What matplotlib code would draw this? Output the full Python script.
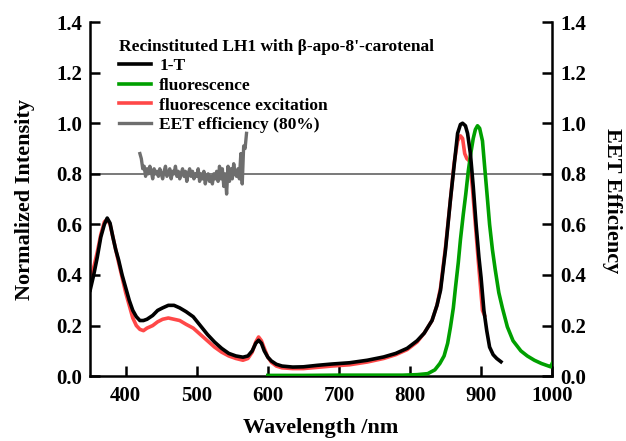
import matplotlib
matplotlib.use("Agg")
import matplotlib.pyplot as plt
import numpy as np

plt.rcParams['font.family'] = ['Liberation Serif', 'DejaVu Serif']
plt.rcParams['font.weight'] = 'bold'

# 1-T (absorption)
wl_abs = [350, 355, 360, 365, 370, 374, 378, 382, 386, 390, 395, 400, 405, 410, 415, 420, 425, 430,
          438, 445, 452, 460, 468, 476, 485, 495, 505, 515, 525, 535, 545, 555, 565, 572, 578, 583,
          587, 591, 595, 600, 605, 612, 620, 635, 650, 670, 690, 715, 740, 763, 780, 796, 810, 820,
          831, 838, 843, 850, 857, 862, 867, 871, 874, 878, 881, 885, 889, 893, 897, 900, 904, 908,
          912, 917, 922, 928]
abs_vals = [0.34, 0.40, 0.47, 0.55, 0.60, 0.625, 0.605, 0.55, 0.50, 0.46, 0.40, 0.35, 0.30, 0.26, 0.235,
            0.22, 0.22, 0.225, 0.24, 0.26, 0.27, 0.28, 0.28, 0.27, 0.255, 0.235, 0.20, 0.165, 0.135,
            0.11, 0.09, 0.08, 0.075, 0.08, 0.10, 0.13, 0.142, 0.13, 0.10, 0.075, 0.06, 0.047, 0.04,
            0.036, 0.037, 0.043, 0.048, 0.053, 0.063, 0.076, 0.09, 0.11, 0.14, 0.17, 0.22, 0.28, 0.34,
            0.50, 0.70, 0.83, 0.96, 0.995, 1.0, 0.99, 0.96, 0.88, 0.75, 0.60, 0.47, 0.39, 0.26, 0.18,
            0.115, 0.085, 0.07, 0.057]

# fluorescence excitation
wl_exc = [350, 355, 360, 365, 370, 374, 378, 382, 386, 390, 395, 400, 405, 410, 415, 420, 425, 430,
          438, 445, 452, 460, 468, 476, 485, 495, 505, 515, 525, 535, 545, 555, 565, 572, 578, 583,
          587, 591, 595, 600, 605, 612, 620, 635, 650, 670, 690, 715, 740, 763, 780, 796, 810, 820,
          831, 838, 843, 850, 857, 862, 867, 871, 874, 877, 880, 884, 888, 892, 896, 899, 902, 905]
exc_vals = [0.37, 0.43, 0.49, 0.56, 0.61, 0.62, 0.60, 0.55, 0.50, 0.45, 0.39, 0.33, 0.28, 0.23, 0.20,
            0.185, 0.18, 0.19, 0.20, 0.215, 0.225, 0.23, 0.225, 0.22, 0.205, 0.19, 0.165, 0.14, 0.115,
            0.095, 0.08, 0.07, 0.063, 0.07, 0.095, 0.135, 0.155, 0.14, 0.11, 0.075, 0.055, 0.04, 0.033,
            0.03, 0.03, 0.035, 0.04, 0.045, 0.056, 0.07, 0.085, 0.105, 0.135, 0.17, 0.22, 0.28, 0.35,
            0.51, 0.70, 0.84, 0.93, 0.95, 0.94, 0.88, 0.86, 0.85, 0.74, 0.60, 0.46, 0.36, 0.26, 0.24]

# fluorescence
wl_fl = [600, 650, 700, 750, 790, 810, 825, 835, 842, 848, 853, 857, 861, 864, 868, 871, 875, 878.5,
         882, 885.5, 889, 892, 895, 898, 902, 905, 909, 912, 916, 920, 925, 930, 937, 945, 956, 965,
         975, 985, 995, 998, 1000]
fl_vals = [0.003, 0.003, 0.004, 0.004, 0.004, 0.006, 0.01, 0.025, 0.05, 0.08, 0.13, 0.195, 0.27, 0.35,
           0.45, 0.54, 0.64, 0.72, 0.81, 0.88, 0.94, 0.975, 0.99, 0.98, 0.93, 0.83, 0.70, 0.60, 0.50,
           0.42, 0.33, 0.27, 0.195, 0.14, 0.10, 0.08, 0.063, 0.05, 0.04, 0.037, 0.05]

# EET efficiency
wl_eet = list(range(420, 572, 2))
eet_vals = [0.88, 0.86, 0.82, 0.83, 0.79, 0.82, 0.80, 0.83, 0.81, 0.78, 0.82, 0.80, 0.81, 0.79, 0.82,
            0.80, 0.78, 0.81, 0.83, 0.79, 0.80, 0.82, 0.78, 0.81, 0.80, 0.83, 0.79, 0.81, 0.78, 0.80,
            0.82, 0.79, 0.81, 0.77, 0.80, 0.82, 0.79, 0.81, 0.78, 0.80, 0.79, 0.82, 0.77, 0.80, 0.78,
            0.81, 0.76, 0.79, 0.80, 0.77, 0.79, 0.76, 0.80, 0.78, 0.81, 0.77, 0.83, 0.78, 0.82, 0.75,
            0.80, 0.72, 0.83, 0.77, 0.82, 0.78, 0.84, 0.80, 0.79, 0.82, 0.78, 0.88, 0.76, 0.91, 0.90,
            0.96]
eet_mean = 0.8

legend_title = "Recinstituted LH1 with β-apo-8'-carotenal"
labels = ["1-T", "fluorescence", "fluorescence excitation", "EET efficiency (80%)"]

fig = plt.figure(figsize=(6.26, 4.41), dpi=100)
ax = fig.add_axes([0.144, 0.147, 0.738, 0.803])

c_black = '#000000'
c_green = '#00a000'
c_red = '#ff4848'
c_gray = '#6e6e6e'

ax.axhline(eet_mean, color=c_gray, lw=1.3, zorder=1)
l_exc, = ax.plot(wl_exc, exc_vals, color=c_red, lw=2.6, zorder=2)
l_fl, = ax.plot(wl_fl, fl_vals, color=c_green, lw=2.6, zorder=3)
l_abs, = ax.plot(wl_abs, abs_vals, color=c_black, lw=2.6, zorder=4)
l_eet, = ax.plot(wl_eet, eet_vals, color=c_gray, lw=2.4, zorder=5)

ax.set_xlim(350, 1000)
ax.set_ylim(0, 1.4)
ax.set_xticks([400, 500, 600, 700, 800, 900, 1000])
ax.set_yticks(np.arange(0, 1.41, 0.2))
ax.set_yticklabels([f"{v:.1f}" for v in np.arange(0, 1.41, 0.2)])
ax.spines['top'].set_visible(False)
for s in ['left', 'right', 'bottom']:
    ax.spines[s].set_linewidth(1.8)
ax.tick_params(axis='both', direction='in', length=7, width=1.8, labelsize=15, pad=6)
ax.tick_params(axis='y', left=True, right=True, labelleft=True, labelright=True)
ax.tick_params(axis='x', top=False, pad=7)

ax.set_xlabel("Wavelength /nm", fontsize=16, fontweight='bold', labelpad=9)
ax.set_ylabel("Normalized Intensity", fontsize=16, fontweight='bold', labelpad=15)
fig.text(0.978, 0.545, "EET Efficiency", rotation=270, fontsize=16, fontweight='bold',
         ha='center', va='center')

leg = ax.legend([l_abs, l_fl, l_exc, l_eet], labels, title=legend_title,
                loc='upper left', bbox_to_anchor=(0.063, 0.953), frameon=False,
                prop={'size': 12.5, 'weight': 'bold'},
                title_fontproperties={'size': 12.5, 'weight': 'bold'},
                alignment='left', handlelength=1.85, handletextpad=0.45, labelspacing=0.2,
                borderpad=0, borderaxespad=0)

fig.savefig("out.png", dpi=100)
